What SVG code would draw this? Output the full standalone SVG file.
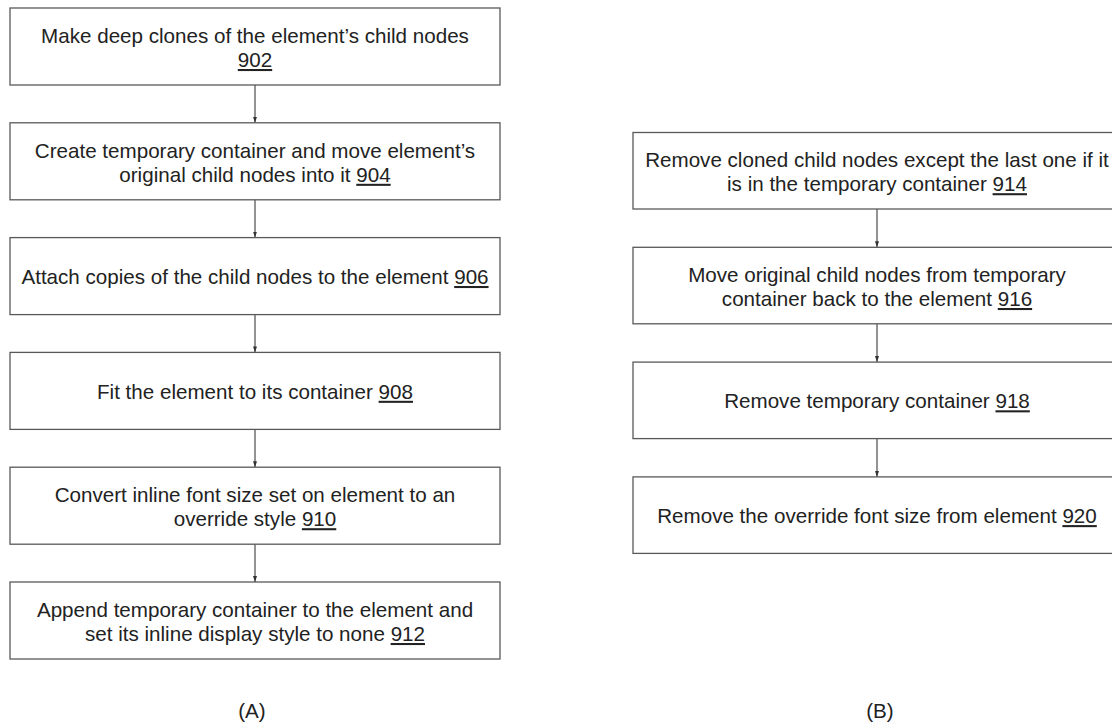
<svg xmlns="http://www.w3.org/2000/svg" width="1112" height="724" viewBox="0 0 1112 724">
<style>
.box{fill:#ffffff;stroke:#595959;stroke-width:1.3}
.t{font-family:"Liberation Sans",Arial,sans-serif;font-size:20.6px;fill:#222222;text-anchor:middle}
.n{text-decoration:underline}
.c{stroke:#595959;stroke-width:1.3;fill:none;marker-end:url(#ah)}
</style>
<defs>
<marker id="ah" markerUnits="userSpaceOnUse" markerWidth="6" markerHeight="6" refX="6" refY="3" orient="auto" viewBox="0 0 6 6">
<path d="M0,1 L6,3 L0,5 Z" fill="#333333"/>
</marker>
</defs>
<rect width="1112" height="724" fill="#ffffff"/>
<g id="connectors">
<line class="c" x1="255" y1="85" x2="255" y2="122.8"/>
<line class="c" x1="255" y1="199.8" x2="255" y2="237.6"/>
<line class="c" x1="255" y1="314.6" x2="255" y2="352.4"/>
<line class="c" x1="255" y1="429.4" x2="255" y2="467.2"/>
<line class="c" x1="255" y1="544.2" x2="255" y2="582"/>
<line class="c" x1="877" y1="209" x2="877" y2="247.3"/>
<line class="c" x1="877" y1="323.8" x2="877" y2="362.1"/>
<line class="c" x1="877" y1="438.6" x2="877" y2="476.9"/>
</g>
<g id="n902">
<rect class="box" x="10" y="8" width="490" height="77"/>
<text class="t" x="255" y="43">Make deep clones of the element’s child nodes</text>
<text class="t" x="255" y="67"><tspan class="n">902</tspan></text>
</g>
<g id="n904">
<rect class="box" x="10" y="122.8" width="490" height="77"/>
<text class="t" x="255" y="157.8">Create temporary container and move element’s</text>
<text class="t" x="255" y="181.8">original child nodes into it <tspan class="n">904</tspan></text>
</g>
<g id="n906">
<rect class="box" x="10" y="237.6" width="490" height="77"/>
<text class="t" x="255" y="284">Attach copies of the child nodes to the element <tspan class="n">906</tspan></text>
</g>
<g id="n908">
<rect class="box" x="10" y="352.4" width="490" height="77"/>
<text class="t" x="255" y="398.8">Fit the element to its container <tspan class="n">908</tspan></text>
</g>
<g id="n910">
<rect class="box" x="10" y="467.2" width="490" height="77"/>
<text class="t" x="255" y="502.2">Convert inline font size set on element to an</text>
<text class="t" x="255" y="526.2">override style <tspan class="n">910</tspan></text>
</g>
<g id="n912">
<rect class="box" x="10" y="582" width="490" height="77"/>
<text class="t" x="255" y="617">Append temporary container to the element and</text>
<text class="t" x="255" y="641">set its inline display style to none <tspan class="n">912</tspan></text>
</g>
<g id="n914">
<rect class="box" x="633" y="132.5" width="488" height="76.5"/>
<text class="t" x="877" y="167.2">Remove cloned child nodes except the last one if it</text>
<text class="t" x="877" y="191.2">is in the temporary container <tspan class="n">914</tspan></text>
</g>
<g id="n916">
<rect class="box" x="633" y="247.3" width="488" height="76.5"/>
<text class="t" x="877" y="282">Move original child nodes from temporary</text>
<text class="t" x="877" y="306">container back to the element <tspan class="n">916</tspan></text>
</g>
<g id="n918">
<rect class="box" x="633" y="362.1" width="488" height="76.5"/>
<text class="t" x="877" y="408.3">Remove temporary container <tspan class="n">918</tspan></text>
</g>
<g id="n920">
<rect class="box" x="633" y="476.9" width="488" height="76.5"/>
<text class="t" x="877" y="523.1">Remove the override font size from element <tspan class="n">920</tspan></text>
</g>
<g id="labels">
<text class="t" x="252" y="718">(A)</text>
<text class="t" x="880" y="718">(B)</text>
</g>
</svg>
